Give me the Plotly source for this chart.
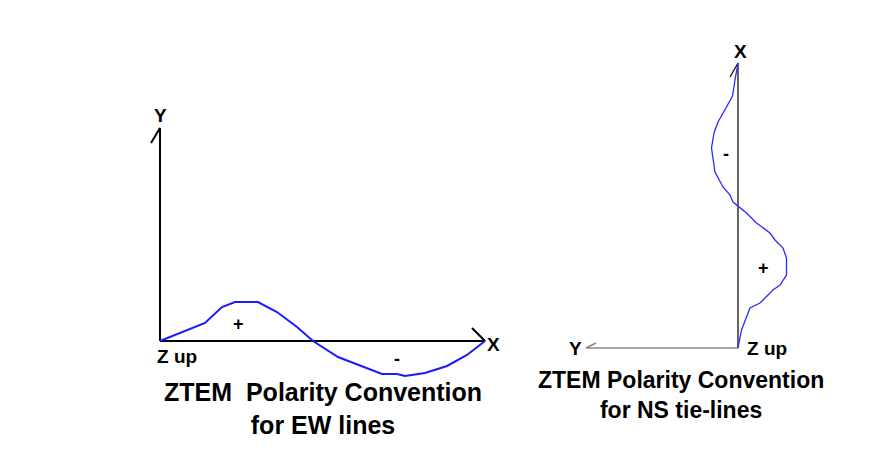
import plotly.graph_objects as go

# EW line: distance along profile vs response amplitude (up = +)
ew_dist = [0, 33, 45, 62, 75, 98, 117, 137, 153, 178, 198, 222, 237, 245, 265, 287, 307, 325]
ew_amp = [0, 13, 18, 34, 39, 39, 29, 14, 0, -16, -24, -33, -33, -35, -32, -25, -14, 0]

# NS tie-line: response amplitude (right = +) vs distance up the line
ns_amp = [0, 3.5, 12, 22, 35, 42, 48.5, 48.5, 45, 37, 32, 18.5, 8.5, 0, -5, -8, -15, -23,
          -25.5, -26.5, -24, -20, -11.5, -5.5, -3, 0]
ns_dist = [0, 18, 40, 45, 58, 63, 73, 90, 100, 108, 115, 125, 135, 142, 146, 153, 161, 176,
           191, 200, 215, 226, 241, 252, 268, 285]

# axis frames
ew_yaxis = ([-9, 0, 0], [198, 213, 0])
ew_xaxis = ([0, 325, 312], [0, 0, 13])
ns_xaxis = ([-8, 0, 0], [271, 285, 0])
ns_yaxis = ([0, -152, -142], [0, 0, 5])

fig = go.Figure()

# left panel (EW)
fig.add_trace(go.Scatter(x=ew_yaxis[0], y=ew_yaxis[1], mode='lines',
                         line=dict(color='black', width=2), xaxis='x', yaxis='y'))
fig.add_trace(go.Scatter(x=ew_xaxis[0], y=ew_xaxis[1], mode='lines',
                         line=dict(color='black', width=2), xaxis='x', yaxis='y'))
fig.add_trace(go.Scatter(x=ew_dist, y=ew_amp, mode='lines',
                         line=dict(color='#1a1aff', width=2), xaxis='x', yaxis='y'))

# right panel (NS)
fig.add_trace(go.Scatter(x=ns_xaxis[0], y=ns_xaxis[1], mode='lines',
                         line=dict(color='black', width=1.2), xaxis='x2', yaxis='y2'))
fig.add_trace(go.Scatter(x=ns_yaxis[0], y=ns_yaxis[1], mode='lines',
                         line=dict(color='#8a8a8a', width=1.5), xaxis='x2', yaxis='y2'))
fig.add_trace(go.Scatter(x=ns_amp, y=ns_dist, mode='lines',
                         line=dict(color='#2a2aff', width=1.3), xaxis='x2', yaxis='y2'))

lbl = dict(family='Liberation Sans', size=19, color='black', weight='bold')
sgn = dict(family='Liberation Sans', size=18, color='black', weight='bold')

annos = [
    # left
    dict(x=0, y=226, text='Y', font=lbl, xref='x', yref='y'),
    dict(x=333, y=-3, text='X', font=lbl, xref='x', yref='y'),
    dict(x=17, y=-15, text='Z up', font=lbl, xref='x', yref='y'),
    dict(x=78, y=17, text='+', font=sgn, xref='x', yref='y'),
    dict(x=237, y=-18, text='-', font=sgn, xref='x', yref='y'),
    dict(x=163, y=-67, text='ZTEM  Polarity Convention<br>for EW lines',
         font=dict(family='Liberation Sans', size=25, color='black', weight='bold'),
         xref='x', yref='y'),
    # right
    dict(x=2, y=297, text='X', font=lbl, xref='x2', yref='y2'),
    dict(x=-163, y=0, text='Y', font=lbl, xref='x2', yref='y2'),
    dict(x=29, y=0, text='Z up', font=lbl, xref='x2', yref='y2'),
    dict(x=-12, y=194, text='-', font=sgn, xref='x2', yref='y2'),
    dict(x=25, y=80, text='+', font=sgn, xref='x2', yref='y2'),
    dict(x=-57, y=-47, text='ZTEM Polarity Convention<br>for NS tie-lines',
         font=dict(family='Liberation Sans', size=23, color='black', weight='bold'),
         xref='x2', yref='y2'),
]
for a in annos:
    a.update(showarrow=False, xanchor='center', yanchor='middle')

hidden = dict(visible=False, showgrid=False, zeroline=False, fixedrange=True)

# page body has an 8px margin, so ranges are shifted to compensate
fig.update_layout(
    width=890, height=455,
    margin=dict(l=0, r=0, t=0, b=0),
    paper_bgcolor='white', plot_bgcolor='white',
    showlegend=False,
    annotations=annos,
    xaxis=dict(range=[-152, 738], domain=[0, 1], **hidden),
    yaxis=dict(range=[-122, 333], domain=[0, 1], **hidden),
    xaxis2=dict(range=[-730, 160], domain=[0, 1], anchor='y2', overlaying='x', **hidden),
    yaxis2=dict(range=[-115, 340], domain=[0, 1], anchor='x2', overlaying='y', **hidden),
)

fig.write_html("out.html")
